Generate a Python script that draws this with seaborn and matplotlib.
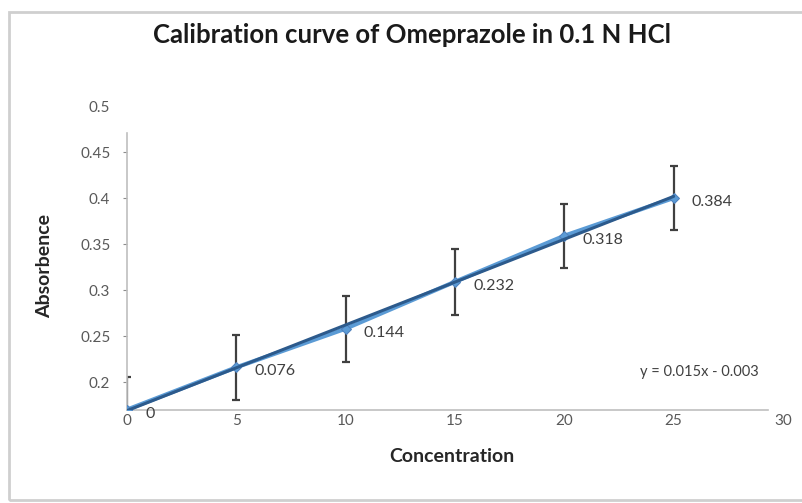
import numpy as np
import seaborn as sns
import matplotlib.pyplot as plt
from matplotlib.patches import Rectangle

# datos
concentracion = [0, 5, 10, 15, 20, 25]
absorbancia = [0.170, 0.216, 0.258, 0.309, 0.359, 0.400]   # posicion dibujada
error_abs = [0.035, 0.035, 0.036, 0.036, 0.035, 0.035]
etiquetas = ["0", "0.076", "0.144", "0.232", "0.318", "0.384"]
yticks = [0.2, 0.25, 0.3, 0.35, 0.4, 0.45, 0.5]
ytick_labels = ["0.2", "0.25", "0.3", "0.35", "0.4", "0.45", "0.5"]
xticks = [0, 5, 10, 15, 20, 25, 30]
ecuacion = "y = 0.015x - 0.003"

sns.set_style("white")
plt.rcParams['font.family'] = ['Lato', 'DejaVu Sans']

fig = plt.figure(figsize=(8.03, 5.03), dpi=100)
ax = fig.add_axes([127 / 803, 1 - 410 / 503, 656 / 803, 304 / 503])

# borde del area del grafico (sin lado derecho visible)
fig.patches.append(Rectangle((9 / 803, 1 - 500 / 503), 1.2, (500 - 12) / 503,
                             transform=fig.transFigure, fill=False,
                             edgecolor='#CFCFCF', lw=2, zorder=0))

# serie de datos
sns.lineplot(x=concentracion, y=absorbancia, ax=ax, color='#5B9BD5', lw=3,
             marker='D', markersize=5, markeredgecolor='#4F81BD', zorder=3)
ax.errorbar(concentracion, absorbancia, yerr=error_abs, fmt='none',
            ecolor='#404040', elinewidth=1.6, capsize=3, capthick=1.6, zorder=2)

# linea de tendencia
sns.regplot(x=np.array(concentracion), y=np.array(absorbancia), ax=ax, ci=None,
            scatter=False, truncate=True,
            line_kws={'color': '#2C5A8C', 'lw': 2.2, 'zorder': 4})

for xv, yv, lab in zip(concentracion, absorbancia, etiquetas):
    ax.annotate(lab, (xv, yv), xytext=(13, -3), textcoords='offset points',
                ha='left', va='center', fontsize=11.5, color='#404040')

ax.text(23.45, 0.211, ecuacion, fontsize=10.5, color='#404040', va='center', ha='left')

ax.set_xlim(0, 30)
ax.set_ylim(0.1696, 0.5)
ax.set_xticks(xticks)
ax.set_yticks(yticks)
ax.set_yticklabels(ytick_labels)
ax.tick_params(axis='both', labelsize=11, labelcolor='#595959', colors='#8C8C8C')
ax.tick_params(axis='y', length=3, direction='out', left=True, pad=9)
ax.tick_params(axis='x', length=0, pad=3)
ax.yaxis.get_major_ticks()[-1].tick1line.set_visible(False)

for s in ['top', 'right']:
    ax.spines[s].set_visible(False)
for s in ['left', 'bottom']:
    ax.spines[s].set_color('#BFBFBF')
    ax.spines[s].set_linewidth(1.2)
ax.spines['left'].set_bounds(0.1696, 0.4707)
ax.spines['bottom'].set_bounds(0, 29.3)

ax.set_xlabel('Concentration', fontsize=14, fontweight='bold', color='#262626')
ax.set_ylabel('Absorbence', fontsize=14, fontweight='bold', color='#262626')
ax.xaxis.set_label_coords(0.4954, -0.125)
ax.yaxis.set_label_coords(-0.112, 0.474)

fig.text(412 / 803, 1 - 35 / 503, 'Calibration curve of Omeprazole in 0.1 N HCl',
         fontsize=18.5, fontweight='bold', color='#1a1a1a', ha='center', va='center')

fig.savefig('out.png', dpi=100)
